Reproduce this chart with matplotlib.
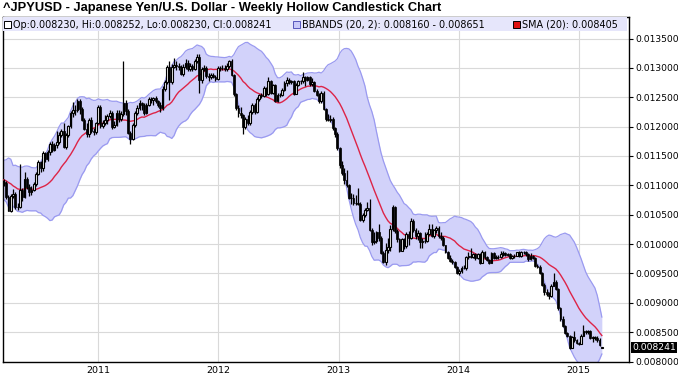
import numpy as np
import pandas as pd
import matplotlib
matplotlib.use("Agg")
import matplotlib.pyplot as plt
import matplotlib.dates as mdates
from matplotlib.patches import Rectangle

plt.rcParams['font.family'] = ['DejaVu Sans']

title = "^JPYUSD - Japanese Yen/U.S. Dollar - Weekly Hollow Candlestick Chart"

# weekly closes before the first drawn candle (used for the 20-week indicators)
warmup_close = [0.011148, 0.011136, 0.010989, 0.010870, 0.011099, 0.011123, 0.011148, 0.011249,
                0.011561, 0.011099, 0.011211, 0.011062, 0.010953, 0.010753, 0.010799, 0.011025,
                0.011123, 0.011074, 0.011198, 0.011123, 0.010917, 0.011249, 0.011099, 0.011050]

first_week = "2010-03-19"

close = [
    # 2010
    0.011038, 0.010799, 0.010571, 0.010823, 0.010858, 0.010627, 0.010638, 0.010929, 0.010799, 0.011111,
    0.010977, 0.010893, 0.010917, 0.011025, 0.011198, 0.011390, 0.011287, 0.011547, 0.011442, 0.011561,
    0.011710, 0.011601, 0.011682, 0.011737, 0.011862, 0.011919, 0.011655, 0.011862, 0.012005, 0.012225,
    0.012285, 0.012285, 0.012438, 0.012300, 0.012121, 0.011962, 0.011876, 0.012121, 0.011919, 0.011905,
    0.012063, 0.012330,
    # 2011
    0.012019, 0.012063, 0.012121, 0.012180, 0.012240, 0.011990, 0.012034, 0.012240, 0.012136, 0.012210,
    0.012407, 0.012270, 0.011891, 0.011792, 0.012034, 0.012225, 0.012315, 0.012407, 0.012376, 0.012240,
    0.012376, 0.012469, 0.012453, 0.012484, 0.012438, 0.012376, 0.012315, 0.012642, 0.012755, 0.013021,
    0.012755, 0.013021, 0.013055, 0.013038, 0.013021, 0.012903, 0.013021, 0.013089, 0.012987, 0.013038,
    0.012987, 0.013123, 0.013193, 0.012788, 0.012987, 0.013004, 0.012870, 0.012837, 0.012887, 0.012853,
    0.012804, 0.013004,
    # 2012
    0.013004, 0.013004, 0.012987, 0.013038, 0.013123, 0.012887, 0.012563, 0.012315, 0.012225, 0.012195,
    0.011990, 0.012136, 0.012063, 0.012255, 0.012361, 0.012255, 0.012469, 0.012531, 0.012516, 0.012658,
    0.012563, 0.012771, 0.012579, 0.012706, 0.012438, 0.012531, 0.012547, 0.012626, 0.012739, 0.012788,
    0.012755, 0.012771, 0.012563, 0.012706, 0.012771, 0.012771, 0.012837, 0.012788, 0.012837, 0.012723,
    0.012755, 0.012610, 0.012547, 0.012438, 0.012579, 0.012300, 0.012136, 0.012121, 0.012136, 0.011976,
    0.011876, 0.011641,
    # 2013
    0.011338, 0.011211, 0.011099, 0.011013, 0.010787, 0.010787, 0.010695, 0.010707, 0.010684, 0.010417,
    0.010493, 0.010582, 0.010616, 0.010246, 0.010040, 0.010050, 0.010204, 0.010101, 0.009843, 0.009690,
    0.009901, 0.009950, 0.010256, 0.010627, 0.010215, 0.010081, 0.009881, 0.010081, 0.009960, 0.010173,
    0.010111, 0.010395, 0.010246, 0.010132, 0.010194, 0.010030, 0.010060, 0.010060, 0.010173, 0.010256,
    0.010142, 0.010235, 0.010267, 0.010132, 0.010101, 0.009980, 0.009872, 0.009766, 0.009718, 0.009690,
    0.009606, 0.009506,
    # 2014
    0.009542, 0.009597, 0.009588, 0.009775, 0.009804, 0.009775, 0.009823, 0.009756, 0.009823, 0.009681,
    0.009872, 0.009775, 0.009728, 0.009681, 0.009843, 0.009766, 0.009785, 0.009785, 0.009823, 0.009852,
    0.009814, 0.009823, 0.009766, 0.009804, 0.009804, 0.009862, 0.009794, 0.009872, 0.009862, 0.009823,
    0.009747, 0.009804, 0.009766, 0.009634, 0.009606, 0.009515, 0.009311, 0.009183, 0.009149, 0.009107,
    0.009294, 0.009355, 0.009242, 0.008905, 0.008726, 0.008598, 0.008489, 0.008432, 0.008237, 0.008418,
    0.008368, 0.008313,
    # 2015
    0.008299, 0.008439, 0.008511, 0.008496, 0.008511, 0.008396, 0.008425, 0.008403, 0.008361, 0.008278,
    0.008241,
]

high = [
    # 2010
    0.011110, 0.011070, 0.010830, 0.010850, 0.010930, 0.010880, 0.010700, 0.011370, 0.010960, 0.011220,
    0.011150, 0.011030, 0.010990, 0.011060, 0.011220, 0.011430, 0.011420, 0.011580, 0.011570, 0.011600,
    0.011740, 0.011760, 0.011720, 0.011920, 0.011900, 0.011960, 0.012070, 0.011890, 0.012030, 0.012260,
    0.012420, 0.012360, 0.012470, 0.012470, 0.012330, 0.012150, 0.012060, 0.012150, 0.012170, 0.011970,
    0.012080, 0.012360,
    # 2011
    0.012360, 0.012110, 0.012200, 0.012220, 0.012290, 0.012260, 0.012090, 0.012280, 0.012290, 0.012270,
    0.013115, 0.012460, 0.012300, 0.011930, 0.012060, 0.012260, 0.012370, 0.012460, 0.012420, 0.012400,
    0.012400, 0.012500, 0.012500, 0.012510, 0.012520, 0.012460, 0.012420, 0.012690, 0.012790, 0.013050,
    0.013110, 0.013060, 0.013170, 0.013110, 0.013080, 0.013050, 0.013060, 0.013150, 0.013130, 0.013080,
    0.013070, 0.013160, 0.013240, 0.013235, 0.013010, 0.013050, 0.013040, 0.012910, 0.012920, 0.012920,
    0.012880, 0.013030,
    # 2012
    0.013040, 0.013050, 0.013050, 0.013080, 0.013140, 0.013150, 0.012900, 0.012580, 0.012360, 0.012330,
    0.012220, 0.012170, 0.012190, 0.012280, 0.012400, 0.012400, 0.012500, 0.012560, 0.012570, 0.012690,
    0.012680, 0.012840, 0.012800, 0.012730, 0.012720, 0.012580, 0.012580, 0.012660, 0.012770, 0.012840,
    0.012820, 0.012800, 0.012790, 0.012740, 0.012800, 0.012800, 0.012930, 0.012870, 0.012870, 0.012860,
    0.012820, 0.012780, 0.012640, 0.012580, 0.012600, 0.012600, 0.012320, 0.012220, 0.012200, 0.012160,
    0.011990, 0.011900,
    # 2013
    0.011660, 0.011420, 0.011290, 0.011260, 0.011030, 0.010870, 0.010860, 0.010830, 0.010960, 0.010720,
    0.010530, 0.010620, 0.010710, 0.010770, 0.010270, 0.010200, 0.010230, 0.010350, 0.010130, 0.009880,
    0.010020, 0.010110, 0.010330, 0.010662, 0.010650, 0.010250, 0.010100, 0.010110, 0.010110, 0.010210,
    0.010230, 0.010440, 0.010420, 0.010270, 0.010240, 0.010210, 0.010100, 0.010200, 0.010200, 0.010350,
    0.010350, 0.010260, 0.010310, 0.010300, 0.010200, 0.010130, 0.009990, 0.009890, 0.009820, 0.009740,
    0.009710, 0.009620,
    # 2014
    0.009570, 0.009630, 0.009650, 0.009790, 0.009870, 0.009930, 0.009840, 0.009850, 0.009850, 0.009840,
    0.009900, 0.009880, 0.009800, 0.009750, 0.009870, 0.009860, 0.009820, 0.009820, 0.009880, 0.009890,
    0.009860, 0.009850, 0.009840, 0.009820, 0.009830, 0.009870, 0.009880, 0.009880, 0.009890, 0.009880,
    0.009840, 0.009840, 0.009810, 0.009780, 0.009660, 0.009650, 0.009520, 0.009330, 0.009230, 0.009190,
    0.009320, 0.009506, 0.009380, 0.009260, 0.008920, 0.008780, 0.008620, 0.008510, 0.008450, 0.008440,
    0.008520, 0.008380,
    # 2015
    0.008340, 0.008460, 0.008620, 0.008540, 0.008530, 0.008540, 0.008430, 0.008440, 0.008430, 0.008400,
    0.008252,
]

low = [
    # 2010
    0.010990, 0.010760, 0.010560, 0.010550, 0.010790, 0.010600, 0.010580, 0.010610, 0.010740, 0.010780,
    0.010930, 0.010820, 0.010840, 0.010900, 0.010990, 0.011170, 0.011230, 0.011250, 0.011400, 0.011410,
    0.011520, 0.011560, 0.011580, 0.011640, 0.011700, 0.011820, 0.011640, 0.011620, 0.011830, 0.011980,
    0.012170, 0.012200, 0.012250, 0.012220, 0.012090, 0.011940, 0.011820, 0.011830, 0.011890, 0.011850,
    0.011880, 0.012040,
    # 2011
    0.011980, 0.011970, 0.012030, 0.012050, 0.012150, 0.011960, 0.011970, 0.012010, 0.012080, 0.012100,
    0.012180, 0.012190, 0.011870, 0.011700, 0.011780, 0.012000, 0.012190, 0.012290, 0.012290, 0.012200,
    0.012210, 0.012350, 0.012400, 0.012370, 0.012400, 0.012330, 0.012250, 0.012290, 0.012610, 0.012730,
    0.012460, 0.012720, 0.012990, 0.012970, 0.012960, 0.012880, 0.012870, 0.012980, 0.012950, 0.012950,
    0.012940, 0.012960, 0.013090, 0.012570, 0.012750, 0.012940, 0.012830, 0.012780, 0.012810, 0.012820,
    0.012770, 0.012790,
    # 2012
    0.012950, 0.012960, 0.012940, 0.012940, 0.013000, 0.012860, 0.012530, 0.012290, 0.012160, 0.012150,
    0.011880, 0.011960, 0.012030, 0.012030, 0.012210, 0.012220, 0.012230, 0.012440, 0.012490, 0.012500,
    0.012530, 0.012540, 0.012560, 0.012560, 0.012420, 0.012420, 0.012500, 0.012530, 0.012610, 0.012700,
    0.012720, 0.012730, 0.012540, 0.012550, 0.012690, 0.012720, 0.012740, 0.012690, 0.012770, 0.012700,
    0.012700, 0.012590, 0.012520, 0.012410, 0.012410, 0.012280, 0.012100, 0.012090, 0.012080, 0.011950,
    0.011820, 0.011610,
    # 2013
    0.011300, 0.011180, 0.011030, 0.010980, 0.010760, 0.010680, 0.010660, 0.010660, 0.010660, 0.010400,
    0.010380, 0.010460, 0.010560, 0.010220, 0.009990, 0.010000, 0.010010, 0.010060, 0.009830, 0.009670,
    0.009640, 0.009850, 0.009880, 0.010230, 0.010180, 0.010030, 0.009860, 0.009880, 0.009920, 0.009940,
    0.009980, 0.010090, 0.010210, 0.010080, 0.010070, 0.009940, 0.009940, 0.010010, 0.010040, 0.010150,
    0.010120, 0.010100, 0.010180, 0.010110, 0.010070, 0.009960, 0.009840, 0.009750, 0.009690, 0.009660,
    0.009590, 0.009490,
    # 2014
    0.009480, 0.009510, 0.009570, 0.009560, 0.009740, 0.009760, 0.009760, 0.009730, 0.009740, 0.009660,
    0.009670, 0.009750, 0.009710, 0.009660, 0.009670, 0.009750, 0.009740, 0.009740, 0.009770, 0.009790,
    0.009790, 0.009790, 0.009740, 0.009750, 0.009770, 0.009790, 0.009780, 0.009780, 0.009830, 0.009800,
    0.009720, 0.009730, 0.009750, 0.009610, 0.009590, 0.009490, 0.009290, 0.009140, 0.009110, 0.009060,
    0.009090, 0.009280, 0.009220, 0.008880, 0.008690, 0.008580, 0.008470, 0.008410, 0.008207, 0.008225,
    0.008340, 0.008300,
    # 2015
    0.008280, 0.008290, 0.008430, 0.008460, 0.008460, 0.008380, 0.008330, 0.008370, 0.008340, 0.008260,
    0.008230,
]

# values shown for the latest (partial) week in the legend
last_open, last_high, last_low, last_close = 0.008230, 0.008252, 0.008230, 0.008241
bb_text_low, bb_text_high, sma_text = 0.008160, 0.008651, 0.008405

year_labels = ["2011", "2012", "2013", "2014", "2015"]
y_ticks = [0.0080, 0.0085, 0.0090, 0.0095, 0.0100, 0.0105, 0.0110, 0.0115, 0.0120, 0.0125, 0.0130, 0.0135]

# ------------------------------------------------------------------
W, H = 678, 376
fig = plt.figure(figsize=(W / 100, H / 100), dpi=100)
ax_l, ax_r, ax_t, ax_b = 3, 629, 17, 361.5
ax = fig.add_axes([ax_l / W, 1 - ax_b / H, (ax_r - ax_l) / W, (ax_b - ax_t) / H])

dates = pd.date_range(first_week, periods=len(close), freq="W-FRI")
warm_dates = pd.date_range(end=dates[0] - pd.Timedelta(days=7), periods=len(warmup_close), freq="W-FRI")
x = mdates.date2num(dates)
all_x = np.r_[mdates.date2num(warm_dates), x]

c = np.array(close)
hi = np.array(high)
lo = np.array(low)
o = np.r_[warmup_close[-1], c[:-1]]
o[-1] = last_open

all_close = pd.Series(np.r_[warmup_close, c])
sma = all_close.rolling(20).mean().to_numpy()
sd = all_close.rolling(20).std(ddof=0).to_numpy()
upper = sma + 2 * sd
lower = sma - 2 * sd

# Bollinger bands
ax.fill_between(all_x, lower, upper, color="#d2d2fa", lw=0, zorder=1)
ax.plot(all_x, upper, color="#9a9af0", lw=0.9, zorder=2)
ax.plot(all_x, lower, color="#9a9af0", lw=0.9, zorder=2)
ax.plot(all_x, sma, color="#dd2447", lw=1.0, zorder=3)

# candles
ax.vlines(x, lo, hi, color="black", lw=0.9, zorder=4)
up = c >= o
dn = ~up
bw = 5.4
ax.bar(x[up], c[up] - o[up], bottom=o[up], width=bw, facecolor="#eeeeee",
       edgecolor="black", lw=0.8, zorder=5)
ax.bar(x[dn], o[dn] - c[dn], bottom=c[dn], width=bw, color="black", lw=0.5,
       edgecolor="black", zorder=5)

# axes limits
x2011 = mdates.date2num(pd.Timestamp("2011-01-01"))
px_per_day = 120.0 / 365.25
x_left = x2011 - (98.5 - ax_l) / px_per_day
x_right = x2011 + (ax_r - 98.5) / px_per_day
ax.set_xlim(x_left, x_right)
y_bottom = 0.0080
y_top = 0.0135 + (38.5 - ax_t) / 58.6 * 0.001
ax.set_ylim(y_bottom, y_top)

# grid
ax.set_yticks(y_ticks)
ax.set_yticklabels([f"{v:.6f}" for v in y_ticks])
xt = [mdates.date2num(pd.Timestamp(f"{y}-01-01")) for y in year_labels]
ax.set_xticks(xt)
ax.set_xticklabels(year_labels)
ax.grid(True, color="#d9d9d9", lw=0.8, zorder=0)
ax.set_axisbelow(True)
ax.yaxis.tick_right()
ax.tick_params(axis="y", length=3, width=0.8, pad=1.5, labelsize=6.6, colors="black")
ax.tick_params(axis="x", length=0, pad=3, labelsize=6.8)
for s in ax.spines.values():
    s.set_color("black")
    s.set_linewidth(1.0)

# legend row
ax.add_patch(Rectangle((0, 1 - 13.5 / (ax_b - ax_t)), (627 - ax_l) / (ax_r - ax_l), 13.5 / (ax_b - ax_t),
                       transform=ax.transAxes, facecolor="#e6e6fb", edgecolor="none", zorder=6))


def fx(px):
    return px / W


def fy(py):
    return 1 - py / H


ly = 24.5
lfs = 6.9
fig.patches.append(Rectangle((fx(4), fy(ly + 3.5)), 7 / W, 7 / H, transform=fig.transFigure,
                             facecolor="white", edgecolor="black", lw=0.7, zorder=10))
fig.text(fx(13), fy(ly), f"Op:{last_open:.6f}, Hi:{last_high:.6f}, Lo:{last_low:.6f}, Cl:{last_close:.6f}",
         fontsize=lfs, va="center", ha="left", zorder=11)
fig.patches.append(Rectangle((fx(293), fy(ly + 3.5)), 7 / W, 7 / H, transform=fig.transFigure,
                             facecolor="#c8c8f8", edgecolor="#5555bb", lw=0.7, zorder=10))
fig.text(fx(302), fy(ly), f"BBANDS (20, 2): {bb_text_low:.6f} - {bb_text_high:.6f}",
         fontsize=lfs, va="center", ha="left", zorder=11)
fig.patches.append(Rectangle((fx(513), fy(ly + 3.5)), 7 / W, 7 / H, transform=fig.transFigure,
                             facecolor="#dd1111", edgecolor="black", lw=0.7, zorder=10))
fig.text(fx(522), fy(ly), f"SMA (20): {sma_text:.6f}", fontsize=lfs, va="center", ha="left", zorder=11)

# title
fig.text(fx(3), fy(8.5), title, fontsize=9.3, fontweight="bold", va="center", ha="left",
         family=["Liberation Sans", "DejaVu Sans"])

# last value marker
fig.text(fx(632), fy(ax_b - (last_close - y_bottom) / (y_top - y_bottom) * (ax_b - ax_t)),
         f"{last_close:.6f}", fontsize=6.6, color="white", va="center", ha="left",
         bbox=dict(boxstyle="square,pad=0.12", fc="black", ec="none"), zorder=12)

fig.savefig("out.png", dpi=100)
